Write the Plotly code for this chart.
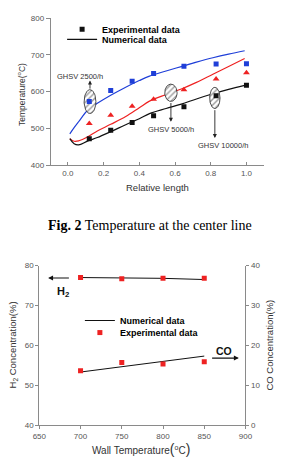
import numpy as np
import plotly.graph_objects as go

W, H = 281, 469

# ---------------- Data: top chart (Fig. 2) ----------------
rel_len_exp = [0.12, 0.24, 0.36, 0.48, 0.65, 0.83, 1.0]
exp_2500 = [573, 603, 628, 649, 669, 675, 676]
exp_5000 = [513, 536, 560, 579, 605, 634, 651]
exp_10000 = [472, 495, 516, 534, 559, 589, 617]

rel_len_num = [0.011, 0.035, 0.06, 0.112, 0.165, 0.24, 0.324, 0.40, 0.457, 0.55, 0.635, 0.72, 0.812, 0.90, 0.99]
num_2500 = [485, 502, 518, 550, 568, 590, 612, 630, 642, 656, 668, 680, 692, 702, 711]
num_5000 = [472, 465, 466, 477, 493, 511, 532, 556, 574, 592, 607, 625, 647, 668, 690]
num_10000 = [472, 458, 455, 466, 475, 491, 510, 526, 540, 554, 566, 580, 594, 606, 617]

top_x_ticks = [0.0, 0.2, 0.4, 0.6, 0.8, 1.0]
top_x_ticklabels = ["0.0", "0.2", "0.4", "0.6", "0.8", "1.0"]
top_y_ticks = [400, 500, 600, 700, 800]

# ---------------- Data: bottom chart ----------------
wall_temp = [700, 750, 800, 850]
h2_exp = [77.0, 76.7, 76.8, 76.8]
h2_num = [77.0, 76.9, 76.8, 76.5]
co_exp = [13.6, 15.7, 15.3, 15.9]
co_num = [13.3, 14.6, 15.9, 17.3]

bot_x_ticks = [650, 700, 750, 800, 850, 900]
bot_y_left_ticks = [40, 50, 60, 70, 80]
bot_y_right_ticks = [0, 10, 20, 30, 40]

# ---------------- Styling ----------------
FONT = "Arial, Liberation Sans, sans-serif"
BLUE = "#1f3fd8"
RED = "#ee2222"
BLACK = "#111111"
AXC = "#8a8a8a"
TICKC = "#555555"


def px(x):
    return x / W


def py(y):
    return 1 - y / H


fig = go.Figure()

# numerical lines (top)
for ys, c in [(num_2500, BLUE), (num_5000, RED)]:
    fig.add_trace(go.Scatter(x=rel_len_num, y=ys, mode="lines", line=dict(color=c, width=1.2, shape="spline"),
                             showlegend=False, xaxis="x", yaxis="y"))
fig.add_trace(go.Scatter(x=rel_len_num, y=num_10000, mode="lines", name="Numerical data",
                         line=dict(color=BLACK, width=1.2, shape="spline"),
                         legend="legend2", showlegend=True, xaxis="x", yaxis="y"))

# hatched ellipses (annotation marks)
ellipses = [(0.124, 572.8, 0.033, 32.5), (0.577, 596.8, 0.0346, 23.5), (0.823, 582.7, 0.029, 28.9)]
t = np.linspace(0, 2 * np.pi, 60)
for cx, cy, rx, ry in ellipses:
    fig.add_trace(go.Scatter(x=cx + rx * np.cos(t), y=cy + ry * np.sin(t), mode="lines",
                             fill="toself", fillcolor="white",
                             fillpattern=dict(shape="/", fgcolor="#333333", bgcolor="white", size=4, solidity=0.35),
                             line=dict(color="#222222", width=0.8), showlegend=False, hoverinfo="skip",
                             xaxis="x", yaxis="y"))

# experimental markers (top)
fig.add_trace(go.Scatter(x=rel_len_exp, y=exp_2500, mode="markers",
                         marker=dict(symbol="square", size=5, color=BLUE), showlegend=False, xaxis="x", yaxis="y"))
fig.add_trace(go.Scatter(x=rel_len_exp, y=exp_5000, mode="markers",
                         marker=dict(symbol="triangle-up", size=6, color=RED), showlegend=False, xaxis="x", yaxis="y"))
fig.add_trace(go.Scatter(x=rel_len_exp, y=exp_10000, mode="markers", name="Experimental data",
                         marker=dict(symbol="square", size=5, color=BLACK), legend="legend",
                         showlegend=True, xaxis="x", yaxis="y"))

# bottom chart
fig.add_trace(go.Scatter(x=wall_temp, y=h2_num, mode="lines", name="Numerical data",
                         line=dict(color=BLACK, width=1), legend="legend3", showlegend=True,
                         xaxis="x2", yaxis="y2"))
fig.add_trace(go.Scatter(x=wall_temp, y=co_num, mode="lines", line=dict(color=BLACK, width=1),
                         showlegend=False, xaxis="x2", yaxis="y3"))
fig.add_trace(go.Scatter(x=wall_temp, y=h2_exp, mode="markers", name="Experimental data",
                         marker=dict(symbol="square", size=5, color=RED), legend="legend4", showlegend=True,
                         xaxis="x2", yaxis="y2"))
fig.add_trace(go.Scatter(x=wall_temp, y=co_exp, mode="markers",
                         marker=dict(symbol="square", size=5, color=RED), showlegend=False,
                         xaxis="x2", yaxis="y3"))

axis_common = dict(showgrid=False, zeroline=False, showline=True, linecolor=AXC, linewidth=1,
                   tickcolor=AXC, tickfont=dict(family=FONT, size=8, color=TICKC), fixedrange=True)

leg_common = dict(bgcolor="rgba(0,0,0,0)", borderwidth=0, xanchor="left", yanchor="middle",
                  font=dict(family=FONT, size=9, color="#000000"), itemclick=False)

fig.update_layout(
    width=W, height=H, margin=dict(l=0, r=0, t=0, b=0),
    paper_bgcolor="white", plot_bgcolor="white",
    font=dict(family=FONT, color="#333333"),
    xaxis=dict(domain=[px(46), px(271)], range=[-0.096, 1.101], anchor="y",
               tickvals=top_x_ticks, ticktext=top_x_ticklabels, ticks="inside", ticklen=3, **axis_common),
    yaxis=dict(domain=[py(164.3), py(14.3)], range=[400, 800], anchor="x",
               tickvals=top_y_ticks, ticks="outside", ticklen=4, **axis_common),
    xaxis2=dict(domain=[px(34), px(251)], range=[650, 900], anchor="y2",
                tickvals=bot_x_ticks, ticks="outside", ticklen=3, **axis_common),
    yaxis2=dict(domain=[py(429.3), py(266.7)], range=[40, 80], anchor="x2",
                tickvals=bot_y_left_ticks, ticks="outside", ticklen=3, **axis_common),
    yaxis3=dict(range=[0, 40], overlaying="y2", side="right", anchor="x2",
                tickvals=bot_y_right_ticks, ticks="outside", ticklen=3, **axis_common),
    legend=dict(x=px(58), y=py(25.7), **leg_common),
    legend2=dict(x=px(58), y=py(36), **leg_common),
    legend3=dict(x=px(116.7 - 40), y=py(322.7), **leg_common),
    legend4=dict(x=px(116.7 - 40), y=py(335), **leg_common),
    showlegend=True,
)

for lg in ["legend", "legend2", "legend3", "legend4"]:
    fig.layout[lg].font.weight = "bold"

ann = []


def paper_text(x, y, text, size, color="#333333", family=FONT, angle=0):
    ann.append(dict(x=px(x), y=py(y), xref="paper", yref="paper", text=text, showarrow=False,
                    xanchor="center", yanchor="middle", textangle=angle,
                    font=dict(family=family, size=size, color=color)))


# top chart text
paper_text(15.5, 92, "Temperature(<sup>o</sup>C)", 8.5, "#333333", angle=-90)
paper_text(158, 186.7, "Relative length", 9.5, "#333333")
paper_text(150.7, 226, "<b>Fig. 2</b> Temperature at the center line", 14, "#000000",
           family="Liberation Serif, Times New Roman, serif")

# GHSV labels (data coords)
for x, y, txt in [(0.069, 641, "GHSV 2500/h"), (0.58, 497.6, "GHSV 5000/h"), (0.867, 453.3, "GHSV 10000/h")]:
    ann.append(dict(x=x, y=y, xref="x", yref="y", text=txt, showarrow=False,
                    font=dict(family=FONT, size=7.5, color="#333333")))

# GHSV arrows
for hx, hy, tx, ty in [(0.124, 630, 0.124, 604), (0.577, 518, 0.577, 573), (0.823, 473.6, 0.823, 553.6)]:
    ann.append(dict(x=hx, y=hy, ax=tx, ay=ty, xref="x", yref="y", axref="x", ayref="y", text="",
                    showarrow=True, arrowhead=2, arrowsize=0.9, arrowwidth=0.9, arrowcolor="#222222"))

# bottom chart text
paper_text(140.7, 453.3,
           "Wall Temperature<span style='font-size:14px'>(</span><sup>o</sup>C<span style='font-size:14px'>)</span>",
           10, "#333333")
paper_text(6.5, 348, "H<sub>2</sub> Concentration(%)", 9.5, "#333333", angle=-90)
paper_text(276, 348, "CO Concentration(%)", 9.5, "#333333", angle=-90)

ann.append(dict(x=678.5, y=73.3, xref="x2", yref="y2", text="<b>H<sub>2</sub></b>", showarrow=False,
                font=dict(family=FONT, size=11, color="#111111")))
ann.append(dict(x=874.3, y=58.7, xref="x2", yref="y2", text="<b>CO</b>", showarrow=False,
                font=dict(family=FONT, size=10.5, color="#111111")))
ann.append(dict(x=660.7, y=76.9, ax=687.7, ay=76.9, xref="x2", yref="y2", axref="x2", ayref="y2", text="",
                showarrow=True, arrowhead=2, arrowsize=0.9, arrowwidth=1.1, arrowcolor="#111111"))
ann.append(dict(x=891.9, y=56.8, ax=857.7, ay=56.8, xref="x2", yref="y2", axref="x2", ayref="y2", text="",
                showarrow=True, arrowhead=2, arrowsize=0.9, arrowwidth=1.1, arrowcolor="#111111"))

fig.update_layout(annotations=ann)

fig.write_html("out.html", config=dict(displayModeBar=False, staticPlot=True))
